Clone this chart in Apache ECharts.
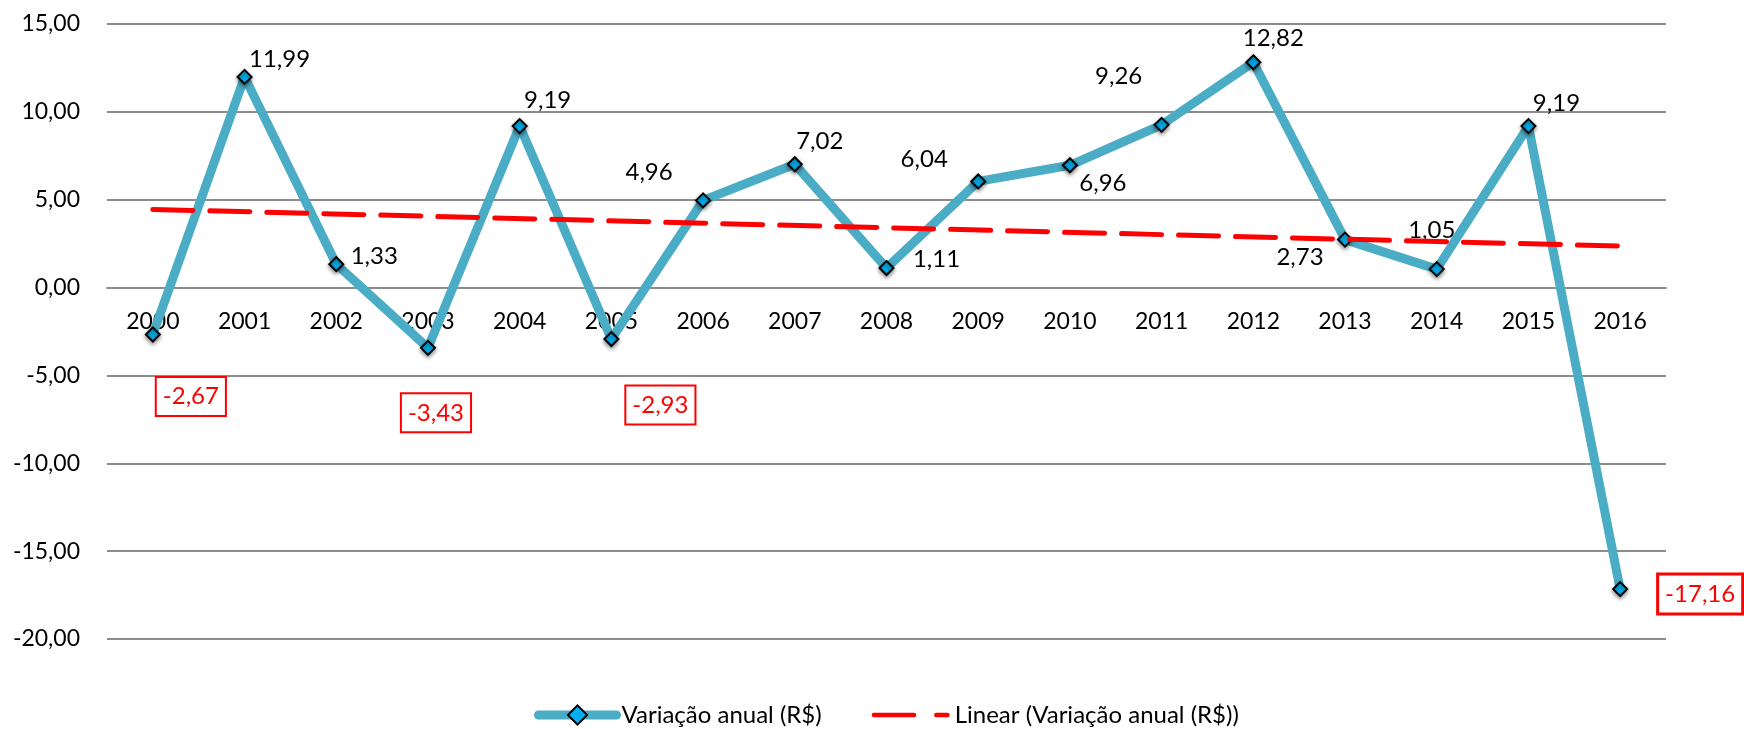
<!DOCTYPE html>
<html>
<head>
<meta charset="utf-8">
<script src="https://cdn.jsdelivr.net/npm/echarts@6/dist/echarts.min.js"></script>
<style>
  html, body { margin: 0; padding: 0; background: #fff; }
  #chart { width: 1744px; height: 729px; }
</style>
</head>
<body>
<div id="chart"></div>
<script>
// dados
const anos = ['2000', '2001', '2002', '2003', '2004', '2005', '2006', '2007', '2008',
  '2009', '2010', '2011', '2012', '2013', '2014', '2015', '2016']
const variacao = [-2.67, 11.99, 1.33, -3.43, 9.19, -2.93, 4.96, 7.02, 1.11,
  6.04, 6.96, 9.26, 12.82, 2.73, 1.05, 9.19, -17.16]
// tendencia linear (inicio 2000, fim 2016)
const tendencia = [4.45, 2.36]
const yTicks = { min: -20, max: 15, interval: 5 }

// posicao dos rotulos (estilo, nao dados)
const labelOffsets = [
  [38, 62], [35, -18], [38, -8], [8, 65], [28, -26], [49, 66], [-54, -28], [25, -23], [50, -9],
  [-54, -22], [33, 18], [-43, -49], [20, -24], [-45, 18], [-5, -39], [28, -23], [80, 5]
]

const fmt = (v) => v.toFixed(2).replace('.', ',')
const font = 'Lato, "Open Sans", sans-serif'

const gridTop = 24
const gridBottom = 90
const plotH = 729 - gridTop - gridBottom
// eixo x cruza no zero
const xOffset = -plotH * (0 - yTicks.min) / (yTicks.max - yTicks.min)

const mainData = variacao.map((v, i) => {
  const neg = v < 0
  return {
    value: v,
    label: {
      offset: labelOffsets[i],
      color: neg ? '#ff0000' : '#000',
      backgroundColor: neg ? '#fff' : 'transparent',
      borderColor: neg ? '#ff0000' : 'transparent',
      borderWidth: neg ? (i === 16 ? 3 : 2) : 0,
      padding: neg ? [7, 6, 6, 6] : 0
    }
  }
})

const chart = echarts.init(document.getElementById('chart'))
const option = {
  animation: false,
  textStyle: { fontFamily: font },
  grid: { left: 107, right: 78, top: gridTop, bottom: gridBottom },
  legend: {
    top: 698,
    left: 529,
    itemWidth: 78,
    itemHeight: 24,
    itemGap: 50,
    textStyle: { fontSize: 24, color: '#000', fontFamily: font },
    data: [
      { name: 'Variação anual (R$)', lineStyle: { width: 9, cap: 'round' } },
      {
        name: 'Linear (Variação anual (R$))',
        icon: 'path://M2,0h36a2,2 0 0 1 0,4h-36a2,2 0 0 1 0,-4z M58,0h10a2,2 0 0 1 0,4h-10a2,2 0 0 1 0,-4z',
        itemStyle: { color: '#ff0000' }
      }
    ]
  },
  xAxis: {
    type: 'category',
    data: anos,
    boundaryGap: true,
    offset: xOffset,
    axisLine: { onZero: false, lineStyle: { color: '#8c8c8c', width: 2 } },
    axisTick: { show: false },
    axisLabel: { color: '#000', fontSize: 23, margin: 23 },
    splitLine: { show: false }
  },
  yAxis: {
    type: 'value',
    min: yTicks.min,
    max: yTicks.max,
    interval: yTicks.interval,
    axisLine: { show: false },
    axisTick: { show: false },
    axisLabel: { color: '#000', fontSize: 23, margin: 27, formatter: fmt },
    splitLine: { lineStyle: { color: '#8c8c8c', width: 2 } }
  },
  series: [
    {
      name: 'Variação anual (R$)',
      type: 'line',
      data: mainData,
      z: 2,
      symbol: 'diamond',
      symbolSize: 14,
      lineStyle: { color: '#4bacc6', width: 9 },
      itemStyle: {
        color: '#00b0f0',
        borderColor: '#000',
        borderWidth: 2,
        shadowBlur: 4,
        shadowColor: 'rgba(0,0,0,0.45)',
        shadowOffsetY: 2
      },
      label: {
        show: true,
        position: 'inside',
        align: 'center',
        verticalAlign: 'middle',
        fontSize: 24,
        fontFamily: font,
        formatter: (p) => fmt(p.value)
      },
      emphasis: { disabled: true }
    },
    {
      name: 'Linear (Variação anual (R$))',
      type: 'line',
      z: 3,
      data: [[0, tendencia[0]], [anos.length - 1, tendencia[1]]],
      symbol: 'none',
      lineStyle: { color: '#ff0000', width: 5, type: [40, 17], cap: 'round' },
      itemStyle: { color: '#ff0000' },
      emphasis: { disabled: true }
    }
  ]
}
chart.setOption(option)
window.addEventListener('resize', () => {
  chart.resize()
})
</script>
</body>
</html>
